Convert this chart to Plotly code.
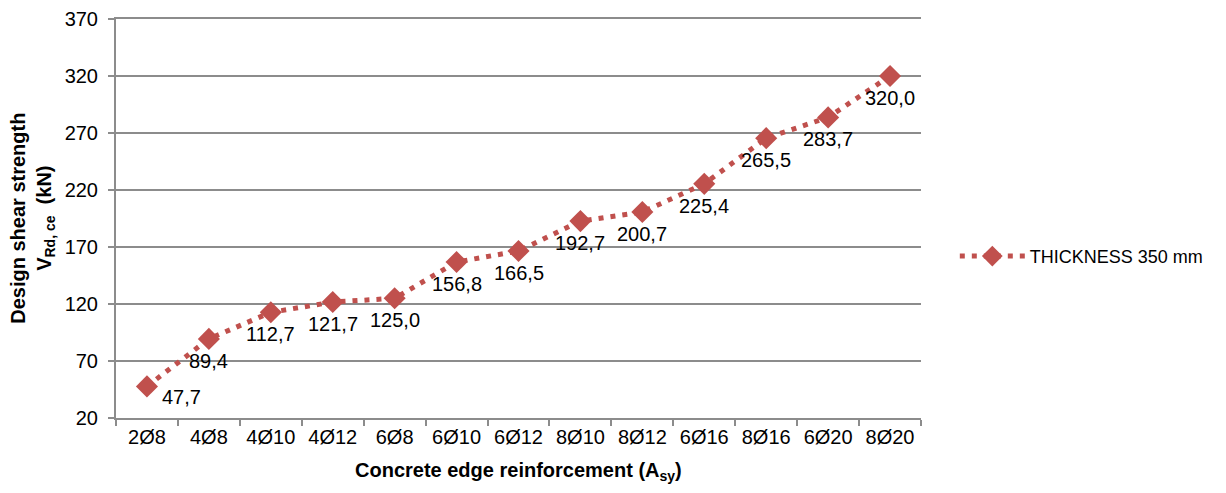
import plotly.graph_objects as go

categories = ["2Ø8", "4Ø8", "4Ø10", "4Ø12", "6Ø8", "6Ø10", "6Ø12", "8Ø10", "8Ø12", "6Ø16", "8Ø16", "6Ø20", "8Ø20"]
values = [47.7, 89.4, 112.7, 121.7, 125.0, 156.8, 166.5, 192.7, 200.7, 225.4, 265.5, 283.7, 320.0]
labels = [f"{v:.1f}".replace(".", ",") for v in values]
series_name = "THICKNESS 350 mm"

color = "#C0504D"
font = "Liberation Sans, Arial, sans-serif"

fig = go.Figure()
fig.add_trace(go.Scatter(
    x=categories, y=values, mode="lines+markers", name=series_name,
    line=dict(color=color, width=5, dash="5px,7px"),
    marker=dict(symbol="diamond", size=17, color=color),
))

for i, (c, v, t) in enumerate(zip(categories, values, labels)):
    fig.add_annotation(x=c, y=v, text=t, showarrow=False,
                       xshift=35 if i == 0 else 0, yshift=-11 if i == 0 else -22,
                       font=dict(size=20, color="#000000", family=font))

fig.add_annotation(xref="paper", yref="paper", x=-0.104, y=0.5, xanchor="center", yanchor="middle",
                   text="<b>Design shear strength<br>V<sub>Rd, ce</sub>  (kN)</b>", textangle=-90,
                   showarrow=False, font=dict(size=20, family=font, color="#000000"))
fig.add_annotation(xref="paper", yref="paper", x=0.5, y=-0.135, xanchor="center", yanchor="middle",
                   text="<b>Concrete edge reinforcement (A<sub>sy</sub>)</b>",
                   showarrow=False, font=dict(size=20, family=font, color="#000000"))

grid = "#8C8C8C"
# page body has an 8px default margin; size and margins compensate for it
fig.update_layout(
    width=1210, height=477,
    margin=dict(l=108, r=297, t=11, b=67, autoexpand=False),
    paper_bgcolor="white", plot_bgcolor="white",
    font=dict(family=font, color="#000000"),
    showlegend=True,
    legend=dict(x=1.042, y=0.405, xanchor="left", yanchor="middle",
                font=dict(size=18, family=font), bgcolor="rgba(0,0,0,0)", itemwidth=65),
    xaxis=dict(
        type="category", range=[-0.5, 12.5], tickson="boundaries", automargin=False,
        ticks="outside", ticklen=6, tickcolor=grid, tickwidth=2, showline=True, mirror=True,
        linecolor=grid, linewidth=2,
        showgrid=False, tickfont=dict(size=20, family=font),
    ),
    yaxis=dict(
        range=[20, 370], tick0=20, dtick=50, ticks="outside", ticklen=6, tickcolor=grid, tickwidth=2,
        automargin=False, ticklabelstandoff=6, ticklabeloverflow="allow",
        showline=True, linecolor=grid, linewidth=2, showgrid=True, gridcolor=grid, gridwidth=2,
        zeroline=False, tickfont=dict(size=20, family=font),
    ),
)

fig.write_html("out.html")
